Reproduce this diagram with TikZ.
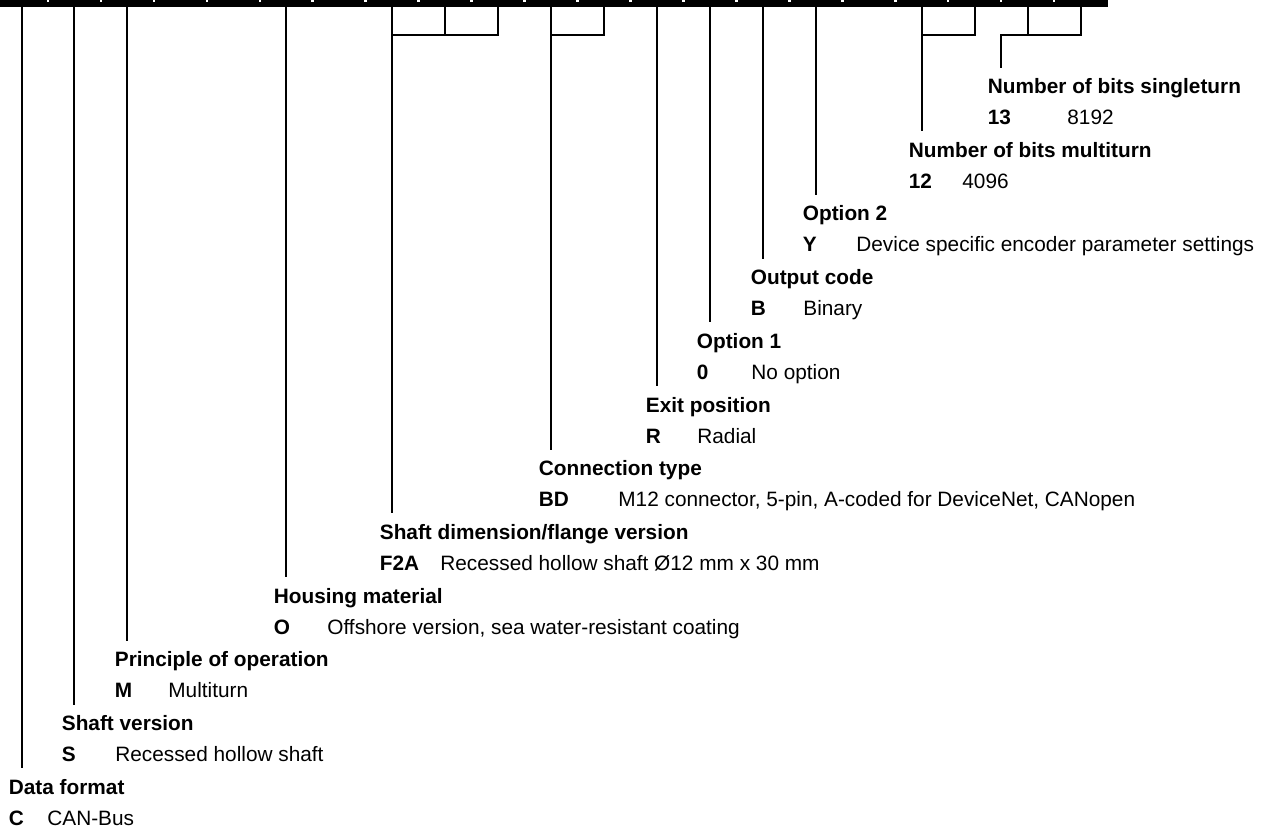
\documentclass[tikz,border=0pt]{standalone}
\usepackage{fontspec}
\setmainfont{Liberation Sans}
\begin{document}
\begin{tikzpicture}[x=0.5pt,y=-0.5pt,
  conn/.style={line width=1pt, line cap=rect, line join=miter},
  ttl/.style={anchor=base west, inner sep=0pt, font=\fontsize{10.4pt}{12pt}\selectfont\bfseries},
  val/.style={anchor=base west, inner sep=0pt, font=\fontsize{10.4pt}{12pt}\selectfont}]
\useasboundingbox (0,0) rectangle (1263,830);
% top bar
\fill[black] (0,0) rectangle (1108,6.5);
\foreach \k in {0,...,19}
  \fill[white] ({48+52.95*\k-1.3},0) rectangle ({48+52.95*\k+1.3},2);
\foreach \k in {0,...,20}
  \coordinate (b\k) at ({21.5+52.95*\k},5);
% bracket joins
\coordinate (j) at (1001,35);
\draw[conn] (b20) |- (j);
\draw[conn] (b19) -- (b19 |- j);
\draw[conn] (b9) |- (b7 |- j);
\draw[conn] (b8) -- (b8 |- j);
\draw[conn] (b11) |- (b10 |- j);
\draw[conn] (b18) |- (b17 |- j);
% entries
\foreach \i/\s/\tx/\title/\code/\vx/\val in {
  0/j/989/{Number of bits singleturn}/13/1068/8192,
  1/b17/910/{Number of bits multiturn}/12/963/4096,
  2/b15/804/{Option 2}/Y/857/{Device specific encoder parameter settings},
  3/b14/752/{Output code}/B/804/Binary,
  4/b13/698/{Option 1}/0/752/{No option},
  5/b12/647/{Exit position}/R/698/Radial,
  6/b10/540/{Connection type}/BD/619/{M12 connector, 5-pin, A-coded for DeviceNet, CANopen},
  7/b7/381/{Shaft dimension/flange version}/F2A/441/{Recessed hollow shaft Ø12 mm x 30 mm},
  8/b5/275/{Housing material}/O/328/{Offshore version, sea water-resistant coating},
  9/b2/116/{Principle of operation}/M/169/Multiturn,
  10/b1/63/{Shaft version}/S/116/{Recessed hollow shaft},
  11/b0/10/{Data format}/C/48/{CAN-Bus}}{
  \pgfmathsetmacro\B{93.5+63.7*\i}
  \node[ttl] (t\i) at ({\tx-1.5},\B) {\title};
  \node[ttl] (c\i) at ({\tx-1.5},{\B+31}) {\code};
  \node[val] (v\i) at ({\vx-1},{\B+31}) {\val};
  \coordinate (e\i) at (0,{\B-27});
  \draw[conn] (\s) -- (\s |- e\i);
}
\end{tikzpicture}
\end{document}
